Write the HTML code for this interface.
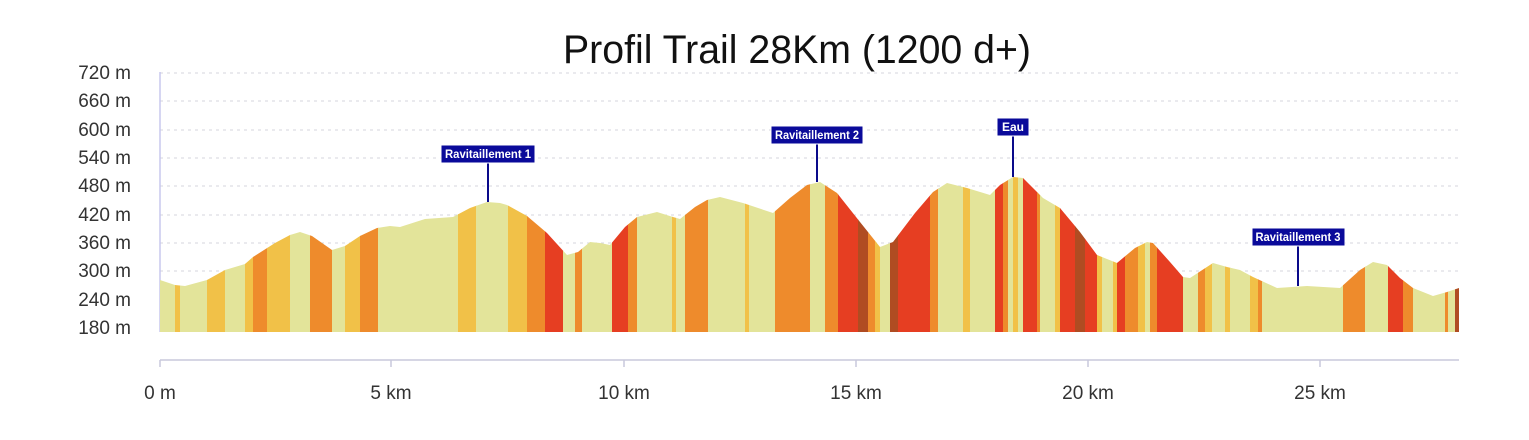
<!DOCTYPE html>
<html><head><meta charset="utf-8"><style>
html,body{margin:0;padding:0;background:#fff;}
svg{display:block;font-family:"Liberation Sans",sans-serif;}
</style></head><body>
<svg width="1529" height="440" viewBox="0 0 1529 440" xmlns="http://www.w3.org/2000/svg">
<defs>
<clipPath id="prof"><path d="M160,280 L175,285 L185,286 L207,280 L225,270 L245,264 L253,257 L275,243 L290,235 L300,232 L312,236 L332,250 L345,246 L360,236 L377,228 L390,226 L400,227 L425,219 L453,217 L470,208 L487,202 L500,203 L507,205 L527,216 L547,233 L567,255 L578,252 L590,242 L600,243 L610,245 L625,227 L637,217 L657,212 L673,217 L680,219 L695,207 L707,200 L720,197 L743,203 L773,213 L790,198 L807,185 L820,182 L837,193 L860,222 L880,247 L893,242 L915,213 L933,192 L947,183 L967,188 L990,195 L1000,185 L1013,177 L1023,178 L1043,198 L1060,208 L1080,232 L1097,255 L1117,263 L1135,248 L1147,242 L1153,243 L1170,262 L1183,277 L1190,278 L1213,263 L1227,267 L1240,270 L1253,277 L1277,288 L1307,286 L1340,288 L1360,270 L1373,262 L1387,265 L1400,278 L1413,288 L1433,296 L1447,292 L1459,288 L1459,332 L160,332 Z"/></clipPath>
</defs>
<text x="797" y="63" text-anchor="middle" font-size="40" textLength="468" lengthAdjust="spacingAndGlyphs" fill="#111">Profil Trail 28Km (1200 d+)</text>
<g stroke="#d6d6dc" stroke-width="1" stroke-dasharray="3,4">
<line x1="160" x2="1459" y1="73" y2="73"/><line x1="160" x2="1459" y1="101" y2="101"/>
<line x1="160" x2="1459" y1="130" y2="130"/><line x1="160" x2="1459" y1="158" y2="158"/>
<line x1="160" x2="1459" y1="186" y2="186"/><line x1="160" x2="1459" y1="215" y2="215"/>
<line x1="160" x2="1459" y1="243" y2="243"/><line x1="160" x2="1459" y1="271" y2="271"/>
<line x1="160" x2="1459" y1="300" y2="300"/><line x1="160" x2="1459" y1="328" y2="328"/>
</g>
<g font-size="19" fill="#333" text-anchor="end">
<text x="131" y="79">720 m</text><text x="131" y="107">660 m</text><text x="131" y="136">600 m</text>
<text x="131" y="164">540 m</text><text x="131" y="192">480 m</text><text x="131" y="221">420 m</text>
<text x="131" y="249">360 m</text><text x="131" y="277">300 m</text><text x="131" y="306">240 m</text>
<text x="131" y="334">180 m</text>
</g>
<line x1="160" y1="72" x2="160" y2="332" stroke="#c8c8ee" stroke-width="1.5"/>
<g clip-path="url(#prof)">
<rect x="160" y="150" width="15.5" height="190" fill="#e3e49a"/>
<rect x="175" y="150" width="5.5" height="190" fill="#f1c148"/>
<rect x="180" y="150" width="27.5" height="190" fill="#e3e49a"/>
<rect x="207" y="150" width="18.5" height="190" fill="#f1c148"/>
<rect x="225" y="150" width="20.5" height="190" fill="#e3e49a"/>
<rect x="245" y="150" width="8.5" height="190" fill="#f1c148"/>
<rect x="253" y="150" width="14.5" height="190" fill="#ee8b2c"/>
<rect x="267" y="150" width="23.5" height="190" fill="#f1c148"/>
<rect x="290" y="150" width="20.5" height="190" fill="#e3e49a"/>
<rect x="310" y="150" width="22.5" height="190" fill="#ee8b2c"/>
<rect x="332" y="150" width="13.5" height="190" fill="#e3e49a"/>
<rect x="345" y="150" width="15.5" height="190" fill="#f1c148"/>
<rect x="360" y="150" width="18.5" height="190" fill="#ee8b2c"/>
<rect x="378" y="150" width="80.5" height="190" fill="#e3e49a"/>
<rect x="458" y="150" width="18.5" height="190" fill="#f1c148"/>
<rect x="476" y="150" width="32.5" height="190" fill="#e3e49a"/>
<rect x="508" y="150" width="19.5" height="190" fill="#f1c148"/>
<rect x="527" y="150" width="18.5" height="190" fill="#ee8b2c"/>
<rect x="545" y="150" width="18.5" height="190" fill="#e63e22"/>
<rect x="563" y="150" width="12.5" height="190" fill="#e3e49a"/>
<rect x="575" y="150" width="7.5" height="190" fill="#ee8b2c"/>
<rect x="582" y="150" width="30.5" height="190" fill="#e3e49a"/>
<rect x="612" y="150" width="16.5" height="190" fill="#e63e22"/>
<rect x="628" y="150" width="9.5" height="190" fill="#ee8b2c"/>
<rect x="637" y="150" width="35.5" height="190" fill="#e3e49a"/>
<rect x="672" y="150" width="4.5" height="190" fill="#f1c148"/>
<rect x="676" y="150" width="9.5" height="190" fill="#e3e49a"/>
<rect x="685" y="150" width="23.5" height="190" fill="#ee8b2c"/>
<rect x="708" y="150" width="37.5" height="190" fill="#e3e49a"/>
<rect x="745" y="150" width="4.5" height="190" fill="#f1c148"/>
<rect x="749" y="150" width="26.5" height="190" fill="#e3e49a"/>
<rect x="775" y="150" width="35.5" height="190" fill="#ee8b2c"/>
<rect x="810" y="150" width="15.5" height="190" fill="#e3e49a"/>
<rect x="825" y="150" width="13.5" height="190" fill="#ee8b2c"/>
<rect x="838" y="150" width="20.5" height="190" fill="#e63e22"/>
<rect x="858" y="150" width="10.5" height="190" fill="#b04c22"/>
<rect x="868" y="150" width="7.5" height="190" fill="#ee8b2c"/>
<rect x="875" y="150" width="5.5" height="190" fill="#f1c148"/>
<rect x="880" y="150" width="10.5" height="190" fill="#e3e49a"/>
<rect x="890" y="150" width="8.5" height="190" fill="#b04c22"/>
<rect x="898" y="150" width="32.5" height="190" fill="#e63e22"/>
<rect x="930" y="150" width="8.5" height="190" fill="#ee8b2c"/>
<rect x="938" y="150" width="25.5" height="190" fill="#e3e49a"/>
<rect x="963" y="150" width="7.5" height="190" fill="#f1c148"/>
<rect x="970" y="150" width="25.5" height="190" fill="#e3e49a"/>
<rect x="995" y="150" width="8.5" height="190" fill="#e63e22"/>
<rect x="1003" y="150" width="5.5" height="190" fill="#ee8b2c"/>
<rect x="1008" y="150" width="5.5" height="190" fill="#e3e49a"/>
<rect x="1013" y="150" width="5.5" height="190" fill="#f1c148"/>
<rect x="1018" y="150" width="5.5" height="190" fill="#e3e49a"/>
<rect x="1023" y="150" width="14.5" height="190" fill="#e63e22"/>
<rect x="1037" y="150" width="3.5" height="190" fill="#ee8b2c"/>
<rect x="1040" y="150" width="15.5" height="190" fill="#e3e49a"/>
<rect x="1055" y="150" width="5.5" height="190" fill="#f1c148"/>
<rect x="1060" y="150" width="15.5" height="190" fill="#e63e22"/>
<rect x="1075" y="150" width="10.5" height="190" fill="#b04c22"/>
<rect x="1085" y="150" width="12.5" height="190" fill="#e63e22"/>
<rect x="1097" y="150" width="5.5" height="190" fill="#f1c148"/>
<rect x="1102" y="150" width="11.5" height="190" fill="#e3e49a"/>
<rect x="1113" y="150" width="4.5" height="190" fill="#f1c148"/>
<rect x="1117" y="150" width="8.5" height="190" fill="#e63e22"/>
<rect x="1125" y="150" width="13.5" height="190" fill="#ee8b2c"/>
<rect x="1138" y="150" width="7.5" height="190" fill="#f1c148"/>
<rect x="1145" y="150" width="5.5" height="190" fill="#e3e49a"/>
<rect x="1150" y="150" width="7.5" height="190" fill="#ee8b2c"/>
<rect x="1157" y="150" width="26.5" height="190" fill="#e63e22"/>
<rect x="1183" y="150" width="15.5" height="190" fill="#e3e49a"/>
<rect x="1198" y="150" width="7.5" height="190" fill="#ee8b2c"/>
<rect x="1205" y="150" width="7.5" height="190" fill="#f1c148"/>
<rect x="1212" y="150" width="13.5" height="190" fill="#e3e49a"/>
<rect x="1225" y="150" width="5.5" height="190" fill="#f1c148"/>
<rect x="1230" y="150" width="20.5" height="190" fill="#e3e49a"/>
<rect x="1250" y="150" width="8.5" height="190" fill="#f1c148"/>
<rect x="1258" y="150" width="4.5" height="190" fill="#ee8b2c"/>
<rect x="1262" y="150" width="81.5" height="190" fill="#e3e49a"/>
<rect x="1343" y="150" width="22.5" height="190" fill="#ee8b2c"/>
<rect x="1365" y="150" width="23.5" height="190" fill="#e3e49a"/>
<rect x="1388" y="150" width="15.5" height="190" fill="#e63e22"/>
<rect x="1403" y="150" width="10.5" height="190" fill="#ee8b2c"/>
<rect x="1413" y="150" width="32.5" height="190" fill="#e3e49a"/>
<rect x="1445" y="150" width="3.5" height="190" fill="#ee8b2c"/>
<rect x="1448" y="150" width="7.5" height="190" fill="#e3e49a"/>
<rect x="1455" y="150" width="5" height="190" fill="#b04c22"/>
</g>
<line x1="160" y1="360" x2="1459" y2="360" stroke="#c8c8dc" stroke-width="1.5"/>
<g stroke="#c8c8dc" stroke-width="1.5">
<line x1="160" x2="160" y1="360" y2="367"/><line x1="391" x2="391" y1="360" y2="367"/>
<line x1="624" x2="624" y1="360" y2="367"/><line x1="856" x2="856" y1="360" y2="367"/>
<line x1="1088" x2="1088" y1="360" y2="367"/><line x1="1320" x2="1320" y1="360" y2="367"/>
</g>
<g font-size="19" fill="#333" text-anchor="middle">
<text x="160" y="399">0 m</text><text x="391" y="399">5 km</text><text x="624" y="399">10 km</text>
<text x="856" y="399">15 km</text><text x="1088" y="399">20 km</text><text x="1320" y="399">25 km</text>
</g>
<g stroke="#0a0a8a" stroke-width="2">
<line x1="488" y1="162" x2="488" y2="202"/><line x1="817" y1="144" x2="817" y2="182"/>
<line x1="1013" y1="136" x2="1013" y2="177"/><line x1="1298" y1="246" x2="1298" y2="286"/>
</g>
<g fill="#0a0a9a" stroke="#fff" stroke-width="1">
<rect x="441" y="145" width="94" height="18"/><rect x="771" y="126" width="92" height="18"/>
<rect x="997" y="118" width="32" height="18"/><rect x="1252" y="228" width="93" height="18"/>
</g>
<g fill="#fff" font-size="12" text-anchor="middle" font-weight="bold">
<text x="488" y="158" textLength="86" lengthAdjust="spacingAndGlyphs">Ravitaillement 1</text>
<text x="817" y="139" textLength="84" lengthAdjust="spacingAndGlyphs">Ravitaillement 2</text>
<text x="1013" y="131">Eau</text>
<text x="1298" y="241" textLength="85" lengthAdjust="spacingAndGlyphs">Ravitaillement 3</text>
</g>
</svg>
</body></html>
